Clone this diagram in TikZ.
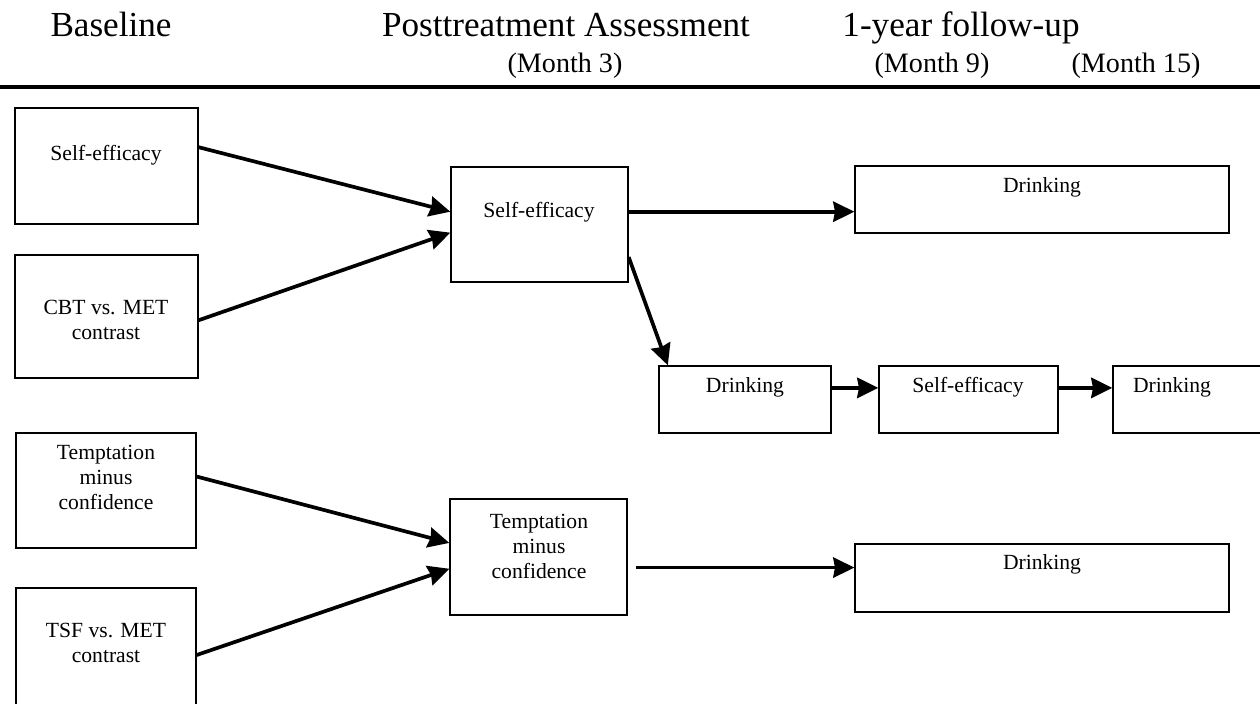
\documentclass[tikz,border=0pt]{standalone}
\usepackage{fontspec}
\setmainfont{Liberation Serif}
\usetikzlibrary{arrows.meta,positioning,calc}

\begin{document}
\begin{tikzpicture}[x=0.02cm, y=-0.02cm,
  box/.style={draw, line width=0.8pt, inner sep=0pt},
  boxtext/.style={font=\fontsize{12.3}{14.2}\selectfont, align=center, inner sep=0pt},
  headtext/.style={font=\fontsize{20}{24}\selectfont, anchor=base, inner sep=0pt},
  monthtext/.style={font=\fontsize{16}{19}\selectfont, anchor=base, inner sep=0pt},
  arrow/.style={-{Stealth[length=12pt, width=11.5pt, inset=1pt]}, line width=2.1pt}]

\clip (0,0) rectangle (1260,703);

% Column headings
\node[headtext] (hBase) at (111,36) {Baseline};
\node[headtext] (hPost) at (566,36) {Posttreatment Assessment};
\node[headtext] (hYear) at (961,36) {1-year follow-up};
\node[monthtext] (m3) at (565,72) {(Month 3)};
\node[monthtext] (m9) at (932,72) {(Month 9)};
\node[monthtext] (m15) at (1136,72) {(Month 15)};
\draw[line width=2.2pt] (0,87) -- (1260,87);

% Baseline boxes
\node[box, minimum width=3.66cm, minimum height=2.32cm] (bSE) at (106.5,166) {};
\node[box, minimum width=3.66cm, minimum height=2.46cm] (bCBT) at (106.5,316.5) {};
\node[box, minimum width=3.6cm, minimum height=2.3cm] (bTMC) at (106,490.5) {};
\node[box, minimum width=3.6cm, minimum height=2.68cm] (bTSF) at (106,655) {};
\node[boxtext] (bSEt) at (106,155) {Self-efficacy};
\node[boxtext] (bCBTt) at (106,320) {CBT vs. MET\\contrast};
\node[boxtext] (bTMCt) at (106,477) {Temptation\\minus\\confidence};
\node[boxtext] (bTSFt) at (106,643) {TSF vs. MET\\contrast};

% Posttreatment boxes
\node[box, minimum width=3.54cm, minimum height=2.3cm] (pSE) at (539.5,224.5) {};
\node[box, minimum width=3.54cm, minimum height=2.32cm] (pTMC) at (538.5,557) {};
\node[boxtext] (pSEt) at (539,212) {Self-efficacy};
\node[boxtext] (pTMCt) at (539,546) {Temptation\\minus\\confidence};

% Follow-up boxes
\node[box, minimum width=7.48cm, minimum height=1.34cm] (dTop) at (1042,199.5) {};
\node[box, minimum width=3.44cm, minimum height=1.34cm] (d3) at (745,399.5) {};
\node[box, minimum width=3.58cm, minimum height=1.34cm] (se9) at (968.5,399.5) {};
\node[box, minimum width=3.34cm, minimum height=1.34cm] (d15) at (1196.5,399.5) {};
\node[box, minimum width=7.48cm, minimum height=1.36cm] (dBot) at (1042,578) {};
\node[boxtext] (dTopt) at (1042,187) {Drinking};
\node[boxtext] (d3t) at (745,387) {Drinking};
\node[boxtext] (se9t) at (968,387) {Self-efficacy};
\node[boxtext] (d15t) at (1172,387) {Drinking};
\node[boxtext] (dBott) at (1042,564) {Drinking};

% Connector end points
\coordinate (bSEe) at ($(bSE.north east)!0.34!(bSE.south east)$);
\coordinate (pSEw1) at ($(pSE.north west)!0.39!(pSE.south west)$);
\coordinate (pSEw2) at ($(pSE.north west)!0.57!(pSE.south west)$);
\coordinate (bCBTe) at ($(bCBT.north east)!0.53!(bCBT.south east)$);
\coordinate (pSEe1) at ($(pSE.north east)!0.39!(pSE.south east)$);
\coordinate (pSEe2) at ($(pSE.north east)!0.78!(pSE.south east)$);
\coordinate (d3n) at ($(d3.north west)!0.055!(d3.north east)$);
\coordinate (d3e) at ($(d3.north east)!0.33!(d3.south east)$);
\coordinate (se9e) at ($(se9.north east)!0.33!(se9.south east)$);
\coordinate (bTMCe) at ($(bTMC.north east)!0.38!(bTMC.south east)$);
\coordinate (pTMCw1) at ($(pTMC.north west)!0.38!(pTMC.south west)$);
\coordinate (pTMCw2) at ($(pTMC.north west)!0.6!(pTMC.south west)$);
\coordinate (pTMCe) at ($(pTMC.north east)!0.59!(pTMC.south east)$);

% Paths
\draw[arrow] (bSEe) -- (pSEw1);
\draw[arrow] (bCBTe) -- (pSEw2);
\draw[arrow] (pSEe1) -- (pSEe1 -| dTop.west);
\draw[arrow] (pSEe2) -- (d3n);
\draw[arrow] (d3e) -- (d3e -| se9.west);
\draw[arrow] (se9e) -- (se9e -| d15.west);
\draw[arrow] (bTMCe) -- (pTMCw1);
\draw[arrow] (bTSF.east) -- (pTMCw2);
\draw[arrow, shorten <=5pt] (pTMCe) -- (pTMCe -| dBot.west);

\end{tikzpicture}
\end{document}
